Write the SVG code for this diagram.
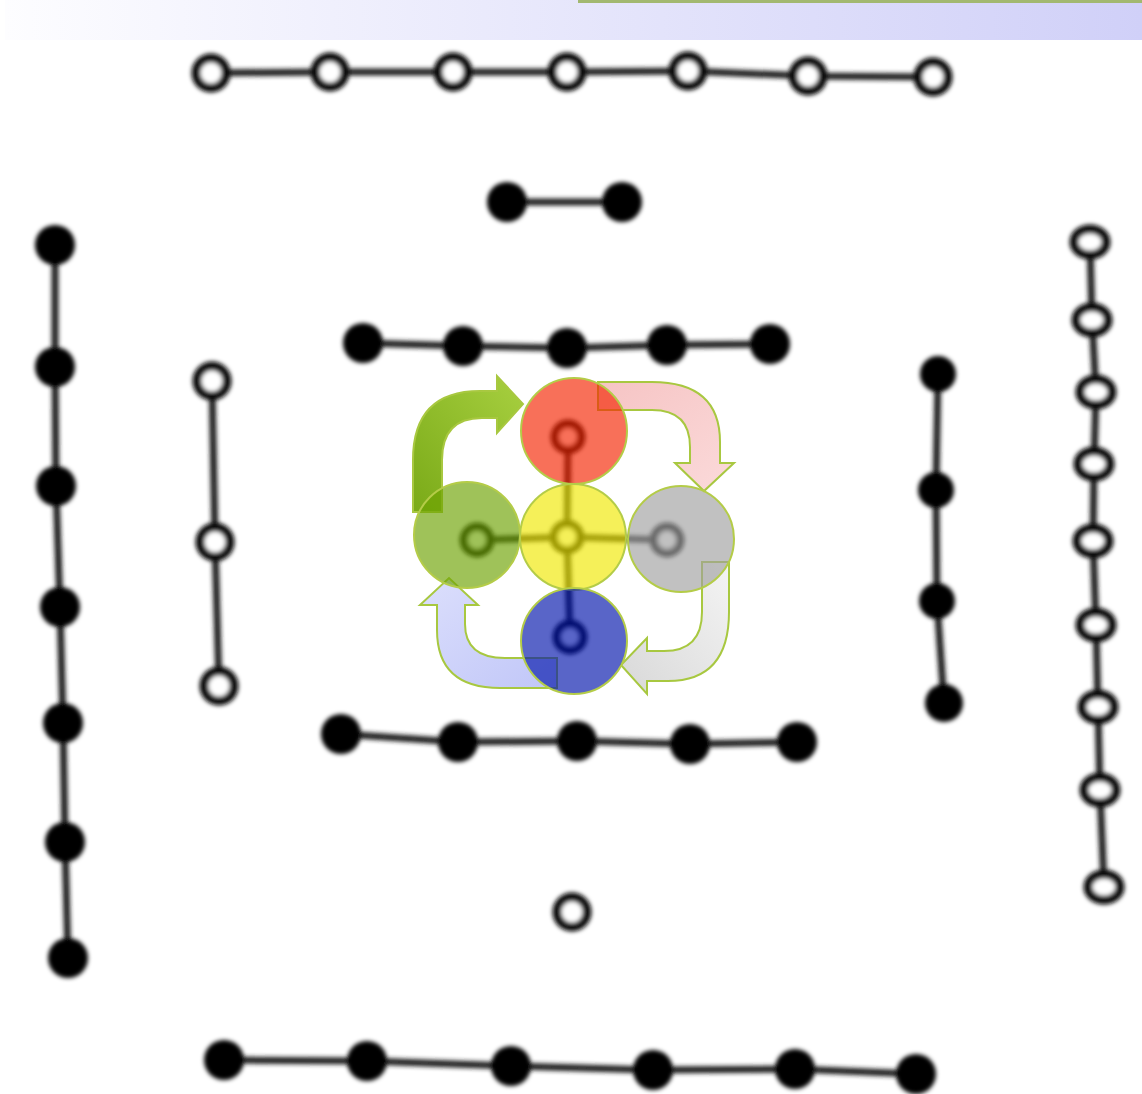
<svg xmlns="http://www.w3.org/2000/svg" width="1142" height="1094" viewBox="0 0 1142 1094">
<defs>
<style>
.ln{stroke:#222;stroke-width:7;fill:none;stroke-linecap:round}
.blk{fill:#030303}
.wht{fill:#ffffff;stroke:#0d0d0d;stroke-width:9}
.disc{stroke:#b4cc48;stroke-width:2;fill-opacity:0.65}
.arr{stroke:#a8c840;stroke-width:2;stroke-linejoin:miter}
</style>
<linearGradient id="bar" x1="0" y1="0" x2="1" y2="0">
<stop offset="0" stop-color="#fdfdff"/>
<stop offset="1" stop-color="#d0d0f8"/>
</linearGradient>
<linearGradient id="gA" x1="0" y1="1" x2="1" y2="0">
<stop offset="0" stop-color="#7aaa18"/>
<stop offset="1" stop-color="#a8d040"/>
</linearGradient>
<linearGradient id="pA" x1="0" y1="0" x2="1" y2="1">
<stop offset="0" stop-color="#f6c4c4"/>
<stop offset="1" stop-color="#fbdada"/>
</linearGradient>
<linearGradient id="yA" x1="1" y1="0" x2="0" y2="1">
<stop offset="0" stop-color="#f4f4f4"/>
<stop offset="1" stop-color="#d8d8d8"/>
</linearGradient>
<linearGradient id="bA" x1="1" y1="1" x2="0" y2="0">
<stop offset="0" stop-color="#c0c6f8"/>
<stop offset="1" stop-color="#dcdffc"/>
</linearGradient>
<filter id="soft" x="-10%" y="-10%" width="120%" height="120%">
<feGaussianBlur stdDeviation="2"/>
</filter>
</defs>
<rect width="1142" height="1094" fill="#ffffff"/>
<rect x="5" y="0" width="1137" height="40" fill="url(#bar)"/>
<rect x="578" y="0" width="564" height="3" fill="#a2b870"/>

<g filter="url(#soft)">
<g id="connectors">
<polyline class="ln" points="211,73 330,72 453,72 567,72 688,71 808,76 933,77"/>
<polyline class="ln" points="507,202 622,202"/>
<polyline class="ln" points="55,245 55,367 56,486 60,607 63,723 65,842 68,958"/>
<polyline class="ln" points="212,381 215,542 219,686"/>
<polyline class="ln" points="363,343 463,346 567,348 667,345 770,344"/>
<polyline class="ln" points="341,734 458,742 577,741 690,744 797,742"/>
<polyline class="ln" points="938,374 936,490 937,601 944,703"/>
<polyline class="ln" points="1090,242 1092,320 1096,392 1094,464 1093,541 1096,625 1098,707 1100,790 1104,887"/>
<polyline class="ln" points="224,1060 367,1061 511,1066 653,1070 795,1069 916,1074"/>
<polyline class="ln" points="568,437 567,537 570,637"/>
<polyline class="ln" points="477,540 567,537 667,540"/>
</g>
<g id="top-seven">
<circle class="wht" cx="211" cy="73" r="15"/><circle class="wht" cx="330" cy="72" r="15"/><circle class="wht" cx="453" cy="72" r="15"/><circle class="wht" cx="567" cy="72" r="15"/><circle class="wht" cx="688" cy="71" r="15"/><circle class="wht" cx="808" cy="76" r="15"/><circle class="wht" cx="933" cy="77" r="15"/>
</g>
<g id="top-two">
<circle class="blk" cx="507" cy="202" r="20"/><circle class="blk" cx="622" cy="202" r="20"/>
</g>
<g id="left-eight">
<circle class="blk" cx="55" cy="245" r="20"/><circle class="blk" cx="55" cy="367" r="20"/><circle class="blk" cx="56" cy="486" r="20"/><circle class="blk" cx="60" cy="607" r="20"/><circle class="blk" cx="63" cy="723" r="20"/><circle class="blk" cx="65" cy="842" r="20"/><circle class="blk" cx="68" cy="958" r="20"/>
</g>
<g id="left-three">
<circle class="wht" cx="212" cy="381" r="15"/><circle class="wht" cx="215" cy="542" r="15"/><circle class="wht" cx="219" cy="686" r="15"/>
</g>
<g id="center-top-five">
<circle class="blk" cx="363" cy="343" r="20"/><circle class="blk" cx="463" cy="346" r="20"/><circle class="blk" cx="567" cy="348" r="20"/><circle class="blk" cx="667" cy="345" r="20"/><circle class="blk" cx="770" cy="344" r="20"/>
</g>
<g id="center-bottom-five">
<circle class="blk" cx="341" cy="734" r="20"/><circle class="blk" cx="458" cy="742" r="20"/><circle class="blk" cx="577" cy="741" r="20"/><circle class="blk" cx="690" cy="744" r="20"/><circle class="blk" cx="797" cy="742" r="20"/>
</g>
<g id="right-four">
<circle class="blk" cx="938" cy="374" r="18"/><circle class="blk" cx="936" cy="490" r="18"/><circle class="blk" cx="937" cy="601" r="18"/><circle class="blk" cx="944" cy="703" r="19"/>
</g>
<g id="right-nine">
<ellipse class="wht" cx="1090" cy="242" rx="16" ry="13"/><ellipse class="wht" cx="1092" cy="320" rx="16" ry="13"/><ellipse class="wht" cx="1096" cy="392" rx="16" ry="13"/><ellipse class="wht" cx="1094" cy="464" rx="16" ry="13"/><ellipse class="wht" cx="1093" cy="541" rx="16" ry="13"/><ellipse class="wht" cx="1096" cy="625" rx="16" ry="13"/><ellipse class="wht" cx="1098" cy="707" rx="16" ry="13"/><ellipse class="wht" cx="1100" cy="790" rx="16" ry="13"/><ellipse class="wht" cx="1104" cy="887" rx="16" ry="13"/>
</g>
<g id="bottom-six">
<circle class="blk" cx="224" cy="1060" r="20"/><circle class="blk" cx="367" cy="1061" r="20"/><circle class="blk" cx="511" cy="1066" r="20"/><circle class="blk" cx="653" cy="1070" r="20"/><circle class="blk" cx="795" cy="1069" r="20"/><circle class="blk" cx="916" cy="1074" r="20"/>
</g>
<g id="bottom-one">
<circle class="wht" cx="572" cy="912" r="15"/>
</g>
<g id="center-five">
<circle class="wht" cx="568" cy="437" r="13"/><circle class="wht" cx="567" cy="537" r="13"/><circle class="wht" cx="477" cy="540" r="13"/><circle class="wht" cx="667" cy="540" r="13"/><circle class="wht" cx="570" cy="637" r="13"/>
</g>
</g>

<g id="arrow-green">
<path class="arr" fill="url(#gA)" d="M413,512 L413,460 Q413,391 480,391 L497,391 L497,376 L523,404 L497,433 L497,418 L482,418 Q442,418 442,460 L442,512 Z"/>
</g>
<g id="arrow-pink">
<path class="arr" fill="url(#pA)" d="M598,382 L652,382 Q720,382 720,442 L720,463 L734,463 L704,491 L675,463 L690,463 L690,447 Q690,410 652,410 L598,410 Z"/>
</g>
<g id="arrow-grey">
<path class="arr" fill="url(#yA)" d="M702,562 L729,562 L729,612 Q729,681 668,681 L647,681 L647,694 L621,665 L647,638 L647,651 L664,651 Q702,651 702,612 Z"/>
</g>
<g id="arrow-blue">
<path class="arr" fill="url(#bA)" d="M557,658 L557,688 L500,688 Q437,688 437,630 L437,605 L420,605 L449,578 L478,605 L465,605 L465,624 Q465,658 505,658 Z"/>
</g>

<g id="disc-red"><circle class="disc" cx="574" cy="431" r="53" fill="#f52300"/></g>
<g id="disc-green"><circle class="disc" cx="467" cy="535" r="53" fill="#6ca200"/></g>
<g id="disc-yellow"><circle class="disc" cx="573" cy="537" r="53" fill="#f0e800"/></g>
<g id="disc-grey"><circle class="disc" cx="681" cy="539" r="53" fill="#9f9f9f"/></g>
<g id="disc-blue"><circle class="disc" cx="574" cy="641" r="53" fill="#0012ab"/></g>
</svg>
